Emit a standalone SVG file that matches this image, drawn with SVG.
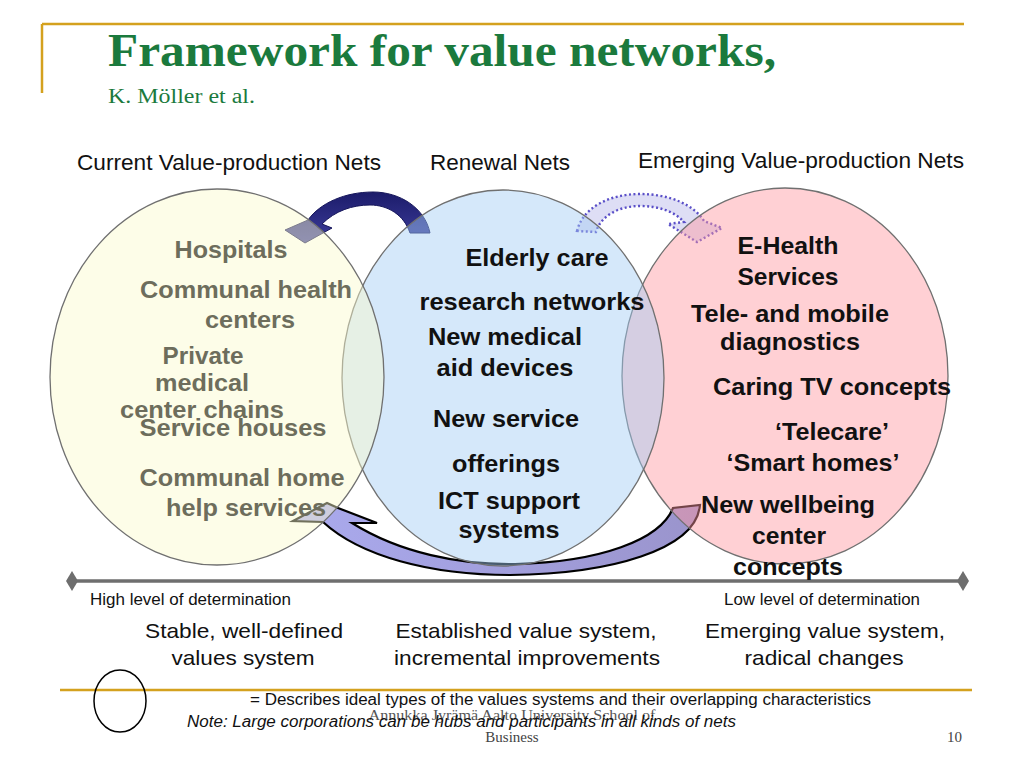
<svg xmlns="http://www.w3.org/2000/svg" width="1024" height="768" viewBox="0 0 1024 768">
<defs>
<style>
.gold{stroke:#d4a11e;stroke-width:2.5;fill:none}
.ell{stroke:#707070;stroke-width:1.3;fill-opacity:0.45}
.hdr{font-family:"Liberation Sans",Arial,sans-serif;font-size:22px;fill:#111}
.bl{font-family:"Liberation Sans",Arial,sans-serif;font-size:24px;font-weight:bold;fill:#111;text-anchor:middle}
.gr{font-family:"Liberation Sans",Arial,sans-serif;font-size:24px;font-weight:bold;fill:#6d6d5c;text-anchor:middle}
.bot{font-family:"Liberation Sans",Arial,sans-serif;font-size:21px;fill:#111;text-anchor:middle}
.sm{font-family:"Liberation Sans",Arial,sans-serif;font-size:16px;fill:#111}
.ser{font-family:"Liberation Serif","Times New Roman",serif}
</style>
<linearGradient id="navy" x1="0" y1="0" x2="0" y2="1">
<stop offset="0" stop-color="#1c1c6a"/>
<stop offset="1" stop-color="#3d3d9c"/>
</linearGradient>
<linearGradient id="lav" x1="1" y1="0" x2="0" y2="0">
<stop offset="0" stop-color="#9a94cc"/>
<stop offset="1" stop-color="#aaaaee"/>
</linearGradient>
</defs>
<rect width="1024" height="768" fill="#fff"/>

<!-- frame lines -->
<line class="gold" x1="42" y1="24" x2="964" y2="24"/>
<line class="gold" x1="42" y1="24" x2="42" y2="93"/>
<line class="gold" x1="60" y1="690" x2="972" y2="690"/>

<text class="ser" x="108" y="66" font-size="46" font-weight="bold" fill="#1b7a3d" textLength="668" lengthAdjust="spacingAndGlyphs">Framework for value networks,</text>
<text class="ser" x="108" y="103" font-size="20" fill="#1b7a3d" textLength="147" lengthAdjust="spacingAndGlyphs">K. Möller et al.</text>

<text class="hdr" x="77" y="170" textLength="304" lengthAdjust="spacingAndGlyphs">Current Value-production Nets</text>
<text class="hdr" x="430" y="170" textLength="140" lengthAdjust="spacingAndGlyphs">Renewal Nets</text>
<text class="hdr" x="638" y="168" textLength="326" lengthAdjust="spacingAndGlyphs">Emerging Value-production Nets</text>

<!-- connectors -->
<g id="connectors">
<path id="arrow-renewal-to-current" d="M 430 233 C 425 208 400 192 373 192 C 345 192 320 203 308 220 L 285 230 L 305 243 L 332 228 L 322 224 C 335 211 352 205 370 205 C 388 205 404 215 410 233 Z" fill="url(#navy)" stroke="#15155a" stroke-width="1"/>
<path id="arrow-renewal-to-emerging" d="M 577 231 C 583 207 610 194 640 194 C 670 194 694 205 704 221 L 722 228 L 697 242 L 668 224 L 684 222 C 674 211 658 206 640 206 C 620 206 601 215 596 232 Z" fill="#d6d6f2" fill-opacity="0.8" stroke="#5a4fc8" stroke-width="2.4" stroke-dasharray="2 2.5"/>
<path id="arrow-emerging-to-current" d="M 293 521 L 327 503 L 338 508 L 377 523 L 352 523 C 400 553 460 565 515 564 C 600 562 660 540 673 508 L 700 505 C 696 550 610 574 510 575 C 430 575 360 556 323 522 Z" fill="url(#lav)" stroke="#000" stroke-width="2.2" stroke-linejoin="miter"/>
</g>

<!-- axis -->
<g id="axis">
<line x1="72" y1="581" x2="963" y2="581" stroke="#6e6e6e" stroke-width="3.5"/>
<polygon points="72,571 78,581 72,591 66,581" fill="#6e6e6e"/>
<polygon points="963,571 969,581 963,591 957,581" fill="#6e6e6e"/>
</g>

<!-- nodes -->
<g id="node-emerging">
<ellipse class="ell" cx="785" cy="376" rx="163" ry="188" fill="#ff979f"/>
<text class="bl" x="788" y="254" textLength="101" lengthAdjust="spacingAndGlyphs">E-Health</text>
<text class="bl" x="788" y="285" textLength="101" lengthAdjust="spacingAndGlyphs">Services</text>
<text class="bl" x="790" y="322" textLength="198" lengthAdjust="spacingAndGlyphs">Tele- and mobile</text>
<text class="bl" x="790" y="350" textLength="140" lengthAdjust="spacingAndGlyphs">diagnostics</text>
<text class="bl" x="832" y="395" textLength="238" lengthAdjust="spacingAndGlyphs">Caring TV concepts</text>
<text class="bl" x="832" y="440" textLength="114" lengthAdjust="spacingAndGlyphs">‘Telecare’</text>
<text class="bl" x="813" y="471" textLength="173" lengthAdjust="spacingAndGlyphs">‘Smart homes’</text>
<text class="bl" x="788" y="513" textLength="174" lengthAdjust="spacingAndGlyphs">New wellbeing</text>
<text class="bl" x="789" y="544" textLength="74" lengthAdjust="spacingAndGlyphs">center</text>
<text class="bl" x="788" y="575" textLength="110" lengthAdjust="spacingAndGlyphs">concepts</text>
</g>

<g id="node-renewal">
<ellipse class="ell" cx="503" cy="378" rx="161" ry="188" fill="#a2ccf4"/>
<text class="bl" x="537" y="266" textLength="143" lengthAdjust="spacingAndGlyphs">Elderly care</text>
<text class="bl" x="532" y="310" textLength="225" lengthAdjust="spacingAndGlyphs">research networks</text>
<text class="bl" x="505" y="345" textLength="154" lengthAdjust="spacingAndGlyphs">New medical</text>
<text class="bl" x="505" y="376" textLength="137" lengthAdjust="spacingAndGlyphs">aid devices</text>
<text class="bl" x="506" y="427" textLength="146" lengthAdjust="spacingAndGlyphs">New service</text>
<text class="bl" x="506" y="472" textLength="108" lengthAdjust="spacingAndGlyphs">offerings</text>
<text class="bl" x="509" y="509" textLength="142" lengthAdjust="spacingAndGlyphs">ICT support</text>
<text class="bl" x="509" y="538" textLength="101" lengthAdjust="spacingAndGlyphs">systems</text>
</g>

<g id="node-current">
<ellipse class="ell" cx="217" cy="377" rx="167" ry="188" fill="#fbfbcc"/>
<text class="gr" x="231" y="258" textLength="113" lengthAdjust="spacingAndGlyphs">Hospitals</text>
<text class="gr" x="246" y="298" textLength="212" lengthAdjust="spacingAndGlyphs">Communal health</text>
<text class="gr" x="250" y="328" textLength="90" lengthAdjust="spacingAndGlyphs">centers</text>
<text class="gr" x="203" y="364" textLength="81" lengthAdjust="spacingAndGlyphs">Private</text>
<text class="gr" x="202" y="391" textLength="94" lengthAdjust="spacingAndGlyphs">medical</text>
<text class="gr" x="202" y="418" textLength="164" lengthAdjust="spacingAndGlyphs">center chains</text>
<text class="gr" x="233" y="436" textLength="187" lengthAdjust="spacingAndGlyphs">Service houses</text>
<text class="gr" x="242" y="486" textLength="205" lengthAdjust="spacingAndGlyphs">Communal home</text>
<text class="gr" x="246" y="516" textLength="160" lengthAdjust="spacingAndGlyphs">help services</text>
</g>

<!-- bottom labels -->
<text class="sm" x="90" y="605" textLength="201" lengthAdjust="spacingAndGlyphs">High level of determination</text>
<text class="sm" x="724" y="605" textLength="196" lengthAdjust="spacingAndGlyphs">Low level of determination</text>
<text class="bot" x="244" y="638" textLength="198" lengthAdjust="spacingAndGlyphs">Stable, well-defined</text>
<text class="bot" x="243" y="665" textLength="143" lengthAdjust="spacingAndGlyphs">values system</text>
<text class="bot" x="526" y="638" textLength="261" lengthAdjust="spacingAndGlyphs">Established value system,</text>
<text class="bot" x="527" y="665" textLength="266" lengthAdjust="spacingAndGlyphs">incremental improvements</text>
<text class="bot" x="825" y="638" textLength="240" lengthAdjust="spacingAndGlyphs">Emerging value system,</text>
<text class="bot" x="824" y="665" textLength="159" lengthAdjust="spacingAndGlyphs">radical changes</text>

<!-- legend -->
<g id="legend">
<ellipse cx="120" cy="701" rx="26" ry="31" fill="none" stroke="#000" stroke-width="1.5"/>
<text class="sm" x="250" y="705" textLength="621" lengthAdjust="spacingAndGlyphs">= Describes ideal types of the values systems and their overlapping characteristics</text>
</g>
<text class="ser" x="512" y="720" font-size="14" fill="#555" text-anchor="middle" textLength="287" lengthAdjust="spacingAndGlyphs">Annukka Jyrämä Aalto University School of</text>
<text class="sm" x="187" y="727" font-style="italic" textLength="549" lengthAdjust="spacingAndGlyphs">Note: Large corporations can be hubs and participants in all kinds of nets</text>
<text class="ser" x="512" y="742" font-size="15" fill="#444" text-anchor="middle">Business</text>
<text class="ser" x="962" y="742" font-size="15" fill="#444" text-anchor="end">10</text>
</svg>
